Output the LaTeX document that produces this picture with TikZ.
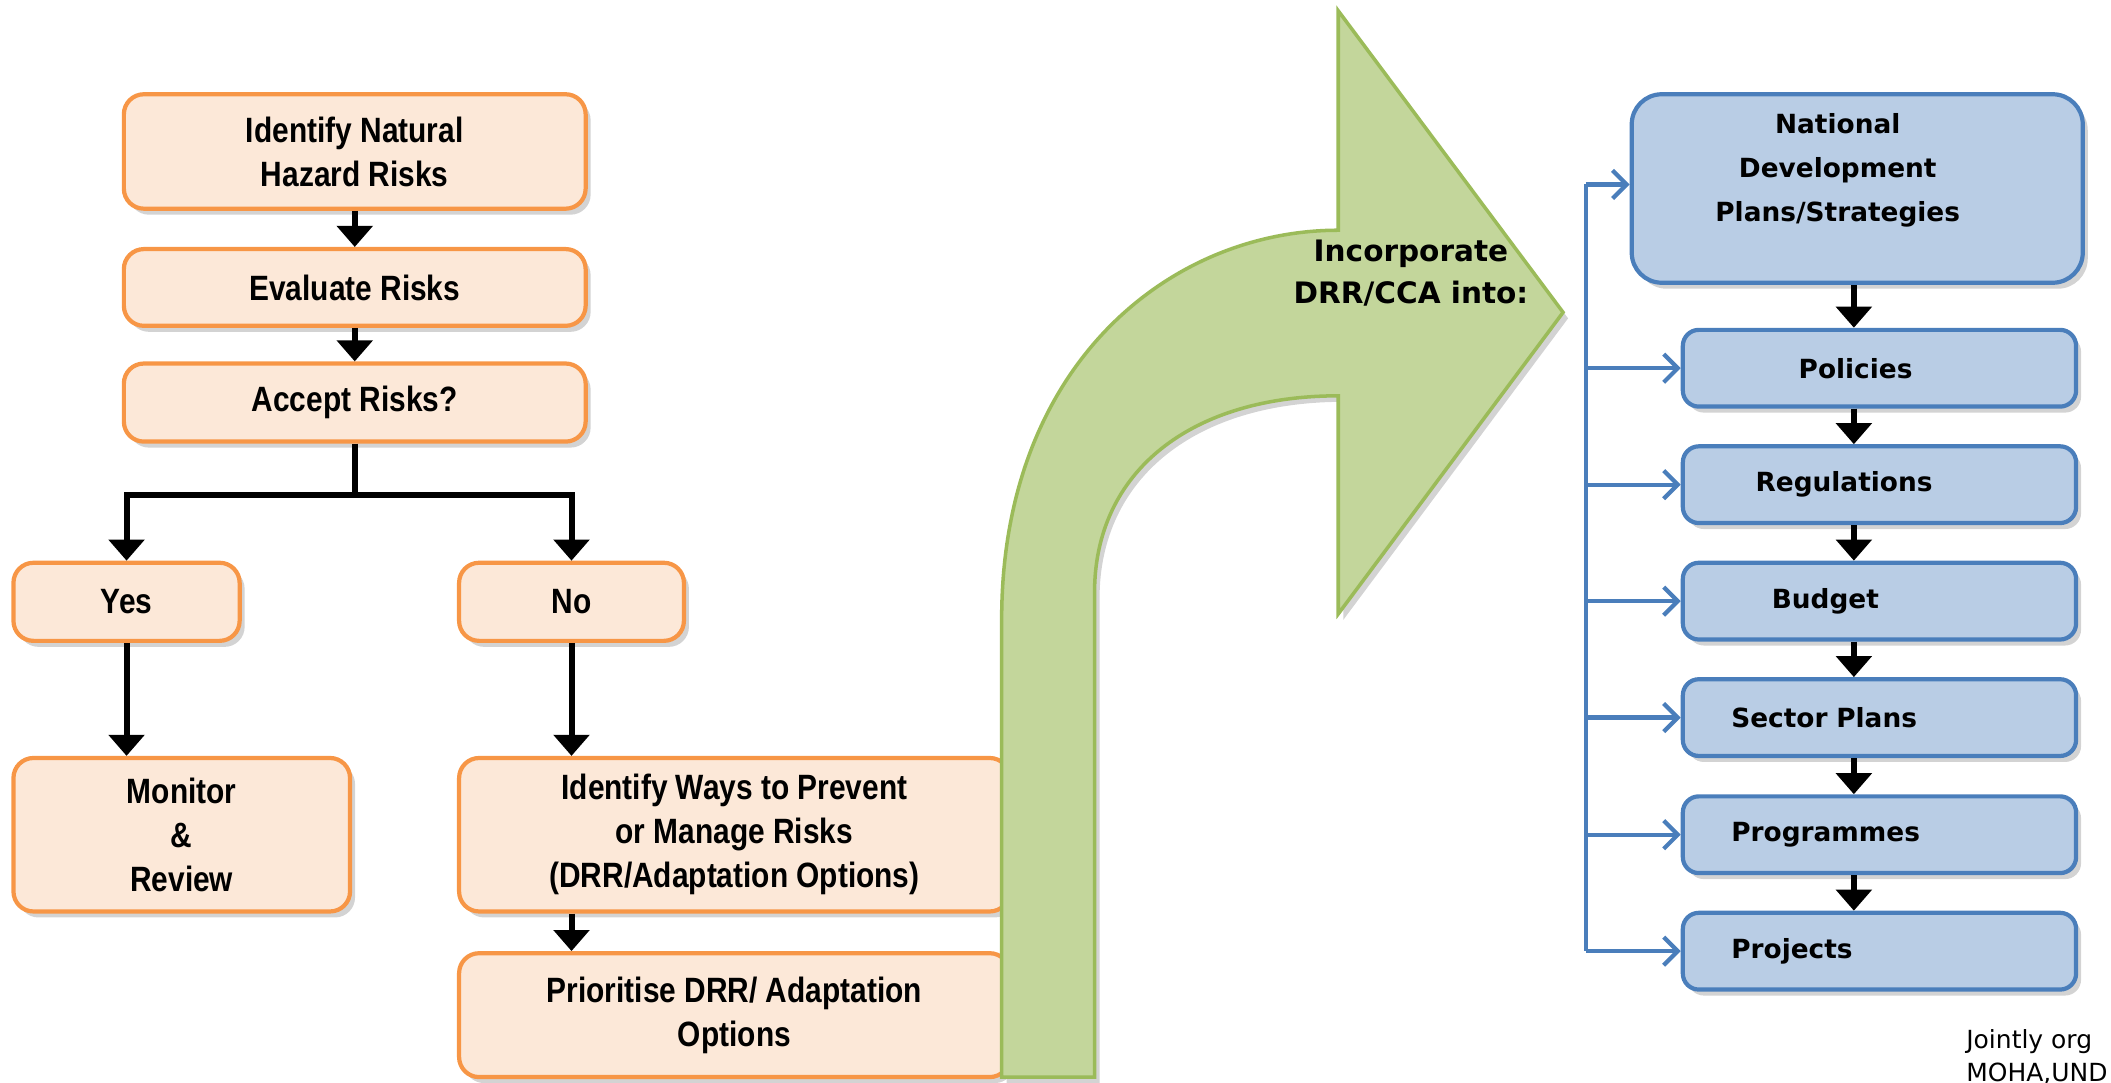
\documentclass[tikz,border=0pt]{standalone}
\usepackage{fontspec}
\setmainfont{Liberation Sans}
\newfontfamily\narrowsf[FakeStretch=0.85]{Liberation Sans}
\newfontfamily\verdsf{DejaVu Sans}
\usetikzlibrary{arrows.meta,shadows}

\definecolor{orfill}{RGB}{252,232,216}
\definecolor{orline}{RGB}{247,150,70}
\definecolor{blfill}{RGB}{185,205,229}
\definecolor{blline}{RGB}{74,126,187}
\definecolor{grfill}{RGB}{195,214,155}
\definecolor{grline}{RGB}{155,187,89}

\begin{document}
\begin{tikzpicture}[x=0.013463cm, y=-0.013463cm,
  boxshadow/.style={drop shadow={shadow xshift=0.05cm, shadow yshift=-0.06cm, opacity=0.35}},
  obox/.style 2 args={draw=orline, fill=orfill, line width=1.2pt, rounded corners=0.2cm,
    minimum width=#1*0.013463cm, minimum height=#2*0.013463cm, inner sep=0pt, align=center,
    font=\narrowsf\bfseries\fontsize{10}{12.5}\selectfont, boxshadow},
  rbox/.style={draw=blline, fill=blfill, line width=1.2pt, rounded corners=0.16cm,
    minimum height=57*0.013463cm, inner xsep=0.485cm, text width=2.961cm, align=left,
    font=\verdsf\bfseries\fontsize{7.5}{9}\selectfont, boxshadow},
  blk/.style={line width=1.7pt, -{Triangle[width=10pt,length=6pt]}},
  barr/.style={draw=blline, line width=1.2pt, -{Straight Barb[length=4pt,width=8pt]}}]
\useasboundingbox (0,0) rectangle (1568,804);

% risk assessment chain
\node[obox={343}{85}] (idnat) at (263.5,112.5) {Identify Natural\\Hazard Risks};
\node[obox={343}{57}] (evalr) at (263.5,213.5) {Evaluate Risks};
\node[obox={343}{58}] (accept) at (263.5,299) {Accept Risks?};
\node[obox={168}{58}] (yes) at (94,447) {Yes};
\node[obox={167}{58}] (no) at (424.5,447) {No};
\node[obox={250}{114}] (monitor) at (135,620) {Monitor\\\&\\Review};
\node[obox={409}{114}] (ways) at (545.5,620) {Identify Ways to Prevent\\or Manage Risks\\(DRR/Adaptation Options)};
\node[obox={409}{92}] (prior) at (545.5,754) {Prioritise DRR/ Adaptation\\Options};

\draw[blk] (idnat) -- (evalr);
\draw[blk] (evalr) -- (accept);
\coordinate (split) at (263.5,368);
\draw[line width=1.7pt] (accept) -- (split);
\draw[blk] (split) -| (yes);
\draw[blk] (split) -| (no);
\draw[blk] (yes) -- (yes |- monitor.north);
\draw[blk] (no) -- (no |- ways.north);
\draw[blk] (no |- ways.south) -- (no |- prior.north);

% big bent arrow
\draw[fill=grfill, draw=grline, line width=1pt, boxshadow] (744,800) -- (744,460)
  .. controls (744,270) and (870,171) .. (994,171) -- (994,8) -- (1161,232) -- (994,456)
  -- (994,294) .. controls (885,294) and (813,350) .. (813,440) -- (813,800) -- cycle;
\node[font=\verdsf\bfseries\fontsize{8.4}{11.9}\selectfont, align=center] (incorp) at (1048,203) {Incorporate\\DRR/CCA into:};

% planning levels
\node[draw=blline, fill=blfill, line width=1.2pt, rounded corners=0.3cm, minimum width=335*0.013463cm,
  minimum height=140*0.013463cm, boxshadow] (natl) at (1379.5,140) {};
\node[font=\verdsf\bfseries\fontsize{7.5}{12.4}\selectfont, align=center] (natltext) at (1365,126.5) {National\\Development\\Plans/Strategies};
\node[rbox] (pol) at (1396,273.5) {\hspace*{0.673cm}Policies};
\node[rbox] (reg) at (1396,360) {\hspace*{0.242cm}Regulations};
\node[rbox] (bud) at (1396,446.5) {\hspace*{0.404cm}Budget};
\node[rbox] (sec) at (1396,533) {Sector Plans};
\node[rbox] (prog) at (1396,620) {Programmes};
\node[rbox] (proj) at (1396,706.5) {Projects};

\coordinate (ax) at (1377,0);
\draw[blk] (ax |- natl.south) -- (ax |- pol.north);
\draw[blk] (ax |- pol.south) -- (ax |- reg.north);
\draw[blk] (ax |- reg.south) -- (ax |- bud.north);
\draw[blk] (ax |- bud.south) -- (ax |- sec.north);
\draw[blk] (ax |- sec.south) -- (ax |- prog.north);
\draw[blk] (ax |- prog.south) -- (ax |- proj.north);

% feed line
\coordinate (bus) at (1178,137);
\draw[blline, line width=1.2pt] (bus) -- (bus |- proj.west);
\draw[barr] (bus) -- (bus -| natl.west);
\draw[barr] (bus |- pol.west) -- (pol.west);
\draw[barr] (bus |- reg.west) -- (reg.west);
\draw[barr] (bus |- bud.west) -- (bud.west);
\draw[barr] (bus |- sec.west) -- (sec.west);
\draw[barr] (bus |- prog.west) -- (prog.west);
\draw[barr] (bus |- proj.west) -- (proj.west);

\node[anchor=west, font=\verdsf\fontsize{7.1}{9.3}\selectfont, align=left, inner sep=0pt] (joint) at (1460,785) {Jointly org\\MOHA,UND};
\end{tikzpicture}
\end{document}
